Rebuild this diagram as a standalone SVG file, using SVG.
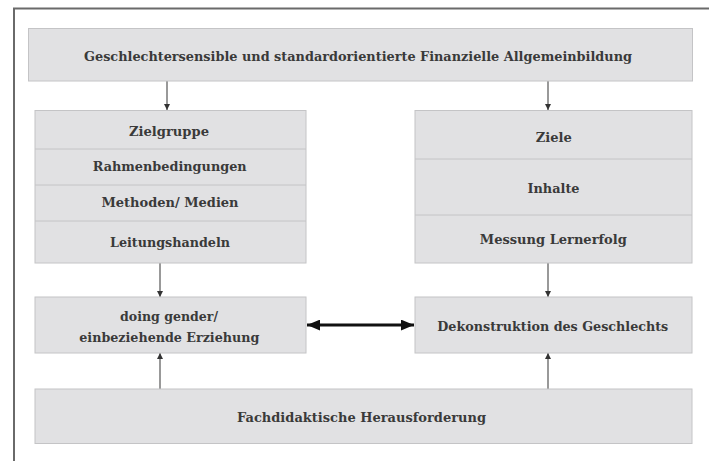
<svg xmlns="http://www.w3.org/2000/svg" width="709" height="461" viewBox="0 0 709 461">
<style>
.box{fill:#e1e1e3;stroke:#c4c4c6;stroke-width:1}
.div{stroke:#c4c4c6;stroke-width:1}
.t{font-family:"DejaVu Serif","Liberation Serif",serif;font-weight:bold;font-size:13px;fill:#3a3a3a;text-anchor:middle}
.ln{stroke:#555;stroke-width:1.2;fill:none}
.thick{stroke:#111;stroke-width:3.2;fill:none}
</style>
<defs>
<marker id="a" viewBox="0 0 8 8" refX="8" refY="4" markerWidth="6" markerHeight="6" orient="auto" markerUnits="userSpaceOnUse"><path d="M0,0 L8,4 L0,8 z" fill="#333"/></marker>
<marker id="b" viewBox="0 0 12 10" refX="12" refY="5" markerWidth="13" markerHeight="11" orient="auto-start-reverse" markerUnits="userSpaceOnUse"><path d="M0,0 L12,5 L0,10 z" fill="#111"/></marker>
</defs>
<rect width="709" height="461" fill="#fff"/>
<path d="M14,461 V8.5 H709" fill="none" stroke="#6a6a6a" stroke-width="2"/>

<g id="connectors">
<line class="ln" x1="167" y1="81" x2="167" y2="110" marker-end="url(#a)"/>
<line class="ln" x1="548" y1="81" x2="548" y2="110" marker-end="url(#a)"/>
<line class="ln" x1="160" y1="263" x2="160" y2="297" marker-end="url(#a)"/>
<line class="ln" x1="548" y1="263" x2="548" y2="297" marker-end="url(#a)"/>
<line class="ln" x1="160" y1="389" x2="160" y2="353" marker-end="url(#a)"/>
<line class="ln" x1="548" y1="389" x2="548" y2="353" marker-end="url(#a)"/>
<line class="thick" x1="307" y1="325" x2="414" y2="325" marker-start="url(#b)" marker-end="url(#b)"/>
</g>

<g id="title">
<rect class="box" x="28.5" y="28.5" width="664" height="52.5"/>
<text class="t" x="358" y="60.5" textLength="548" lengthAdjust="spacingAndGlyphs">Geschlechtersensible und standardorientierte Finanzielle Allgemeinbildung</text>
</g>

<g id="left-column">
<rect class="box" x="35" y="110.5" width="271" height="152.5"/>
<line class="div" x1="35" y1="149" x2="306" y2="149"/>
<line class="div" x1="35" y1="185" x2="306" y2="185"/>
<line class="div" x1="35" y1="221" x2="306" y2="221"/>
<text class="t" x="169" y="135.5" textLength="80" lengthAdjust="spacingAndGlyphs">Zielgruppe</text>
<text class="t" x="169.7" y="171" textLength="154" lengthAdjust="spacingAndGlyphs">Rahmenbedingungen</text>
<text class="t" x="170" y="207" textLength="137" lengthAdjust="spacingAndGlyphs">Methoden/ Medien</text>
<text class="t" x="170" y="247" textLength="120" lengthAdjust="spacingAndGlyphs">Leitungshandeln</text>
</g>

<g id="right-column">
<rect class="box" x="415" y="110.5" width="277" height="152.5"/>
<line class="div" x1="415" y1="159" x2="692" y2="159"/>
<line class="div" x1="415" y1="215" x2="692" y2="215"/>
<text class="t" x="553.7" y="142" textLength="36" lengthAdjust="spacingAndGlyphs">Ziele</text>
<text class="t" x="553.5" y="192.8" textLength="52" lengthAdjust="spacingAndGlyphs">Inhalte</text>
<text class="t" x="553.3" y="243.8" textLength="147" lengthAdjust="spacingAndGlyphs">Messung Lernerfolg</text>
</g>

<g id="doing-gender">
<rect class="box" x="35" y="297" width="271" height="56"/>
<text class="t" x="169" y="321" textLength="98" lengthAdjust="spacingAndGlyphs">doing gender/</text>
<text class="t" x="169.3" y="341.8" textLength="180" lengthAdjust="spacingAndGlyphs">einbeziehende Erziehung</text>
</g>

<g id="dekonstruktion">
<rect class="box" x="415" y="297" width="277" height="56"/>
<text class="t" x="552.8" y="331" textLength="231" lengthAdjust="spacingAndGlyphs">Dekonstruktion des Geschlechts</text>
</g>

<g id="fachdidaktik">
<rect class="box" x="35" y="389" width="657" height="54.5"/>
<text class="t" x="361.5" y="421.8" textLength="249" lengthAdjust="spacingAndGlyphs">Fachdidaktische Herausforderung</text>
</g>
</svg>
